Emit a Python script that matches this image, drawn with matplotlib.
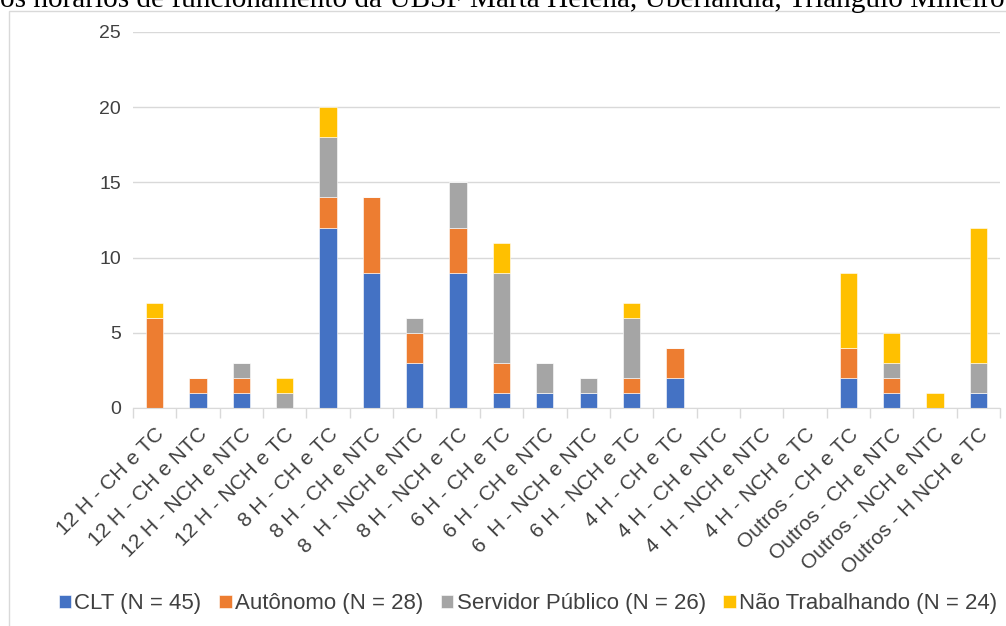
import numpy as np
import matplotlib.pyplot as plt
from matplotlib.patches import Rectangle

# Categories: shift length - shift/weekend combination
categories = ["12 H - CH e TC", "12 H - CH e NTC", "12 H - NCH e NTC", "12 H - NCH e TC",
              "8 H - CH e TC", "8 H - CH e NTC", "8  H - NCH e NTC", "8 H - NCH e TC",
              "6 H - CH e TC", "6 H - CH e NTC", "6  H - NCH e NTC", "6 H - NCH e TC",
              "4 H - CH e TC", "4 H - CH e NTC", "4  H - NCH e NTC", "4 H - NCH e TC",
              "Outros - CH e TC", "Outros - CH e NTC", "Outros - NCH e NTC", "Outros - H NCH e TC"]

clt        = [0, 1, 1, 0, 12, 9, 3, 9, 1, 1, 1, 1, 2, 0, 0, 0, 2, 1, 0, 1]
autonomo   = [6, 1, 1, 0, 2, 5, 2, 3, 2, 0, 0, 1, 2, 0, 0, 0, 2, 1, 0, 0]
servidor   = [0, 0, 1, 1, 4, 0, 1, 3, 6, 2, 1, 4, 0, 0, 0, 0, 0, 1, 0, 2]
nao_trab   = [1, 0, 0, 1, 2, 0, 0, 0, 2, 0, 0, 1, 0, 0, 0, 0, 5, 2, 1, 9]

series = [("CLT (N = 45)", clt, "#4472C4"),
          ("Autônomo (N = 28)", autonomo, "#ED7D31"),
          ("Servidor Público (N = 26)", servidor, "#A5A5A5"),
          ("Não Trabalhando (N = 24)", nao_trab, "#FFC000")]

caption = "os horários de funcionamento da UBSF Marta Helena, Uberlândia, Triângulo Mineiro"

W, H = 1006, 626
plt.rcParams['font.family'] = ['Liberation Sans', 'DejaVu Sans']
fig = plt.figure(figsize=(W / 100, H / 100), dpi=100)

# caption line from the document, cut at the top; sized to run across the page
cap = fig.text(0, 1 - 7 / H, caption, ha='left', va='baseline', fontsize=20,
               family='Liberation Serif', color='black')
fig.canvas.draw()
cw = cap.get_window_extent().width
cap.set_fontsize(20 * 1004 / cw)

# light frame around the chart
fig.patches.append(Rectangle((9 / W, -0.05), 1.1, (H - 11) / H + 0.05,
                             transform=fig.transFigure, fill=False,
                             edgecolor='#d9d9d9', linewidth=1))

ax = fig.add_axes([133 / W, 218 / H, 867 / W, 376 / H])

x = np.arange(len(categories))
bottom = np.zeros(len(categories))
for name, vals, color in series:
    vals = np.array(vals)
    ax.bar(x, vals, width=0.4, bottom=bottom, color=color, label=name,
           edgecolor='white', linewidth=0.4, zorder=3)
    bottom += vals

ax.set_xlim(-0.5, len(categories) - 0.5)
ax.set_ylim(0, 25)
ax.set_yticks(range(0, 26, 5))
ax.grid(axis='y', color='#d9d9d9', linewidth=1, zorder=0)

for s in ['top', 'right', 'left']:
    ax.spines[s].set_visible(False)
ax.spines['bottom'].set_color('#d9d9d9')
ax.spines['bottom'].set_zorder(4)

ax.tick_params(axis='y', length=0, pad=8.5, labelsize=14, labelcolor='#404040')
ax.set_xticks(x)
ax.set_xticklabels(categories, rotation=45, ha='right', rotation_mode='anchor',
                   fontsize=15, color='#404040')
ax.tick_params(axis='x', which='major', length=0, pad=12)
# tick marks on category boundaries
ax.set_xticks(np.arange(-0.5, len(categories)), minor=True)
ax.tick_params(axis='x', which='minor', length=7, color='#d9d9d9', width=1)

fig.legend(loc='center', bbox_to_anchor=(528 / W, 1 - 604 / H), ncol=4,
           frameon=False, fontsize=16, handlelength=0.55, handleheight=0.55,
           handletextpad=0.15, columnspacing=0.8, labelcolor='#404040')

fig.savefig('out.png', dpi=100)
